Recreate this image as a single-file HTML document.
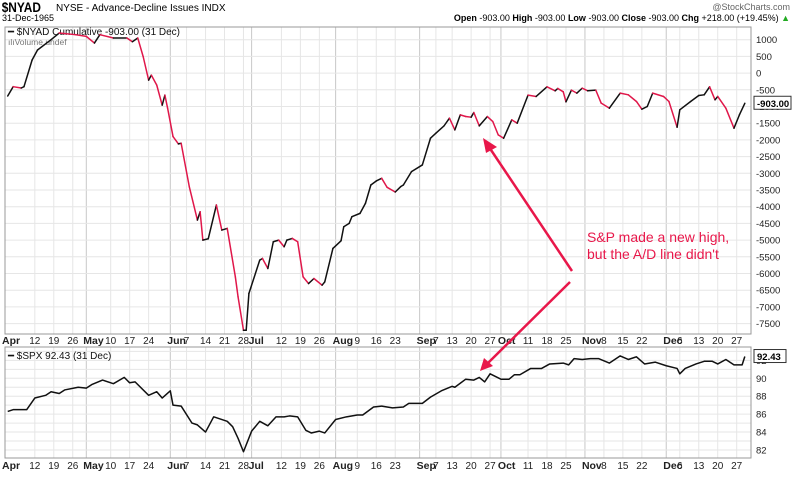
<!DOCTYPE html>
<html><head><meta charset="utf-8"><style>
body{margin:0;background:#fff;font-family:"Liberation Sans",sans-serif;}
svg text{font-family:"Liberation Sans",sans-serif;}
</style></head><body>
<svg id="c" width="800" height="473" viewBox="0 0 800 473" xmlns="http://www.w3.org/2000/svg">
<defs><clipPath id="cpT"><rect x="5" y="27" width="746" height="307"/></clipPath></defs>
<g>
<text x="2" y="12" font-size="14" font-weight="bold" transform="scale(0.85,1)">$NYAD</text>
<text x="56" y="11" font-size="10">NYSE - Advance-Decline Issues INDX</text>
<text x="790" y="10" font-size="9" fill="#666" text-anchor="end">@StockCharts.com</text>
<text x="2" y="21" font-size="9">31-Dec-1965</text>
<text x="790" y="21" font-size="9" text-anchor="end"><tspan font-weight="bold">Open</tspan> -903.00 <tspan font-weight="bold">High</tspan> -903.00 <tspan font-weight="bold">Low</tspan> -903.00 <tspan font-weight="bold">Close</tspan> -903.00 <tspan font-weight="bold">Chg</tspan> +218.00 (+19.45%) <tspan fill="#2a2">▲</tspan></text>
</g>
<g id="topG"></g>
<g id="botG"></g>
<g id="xl"></g>
<g>
<line x1="572" y1="271" x2="489" y2="147" stroke="#e8174a" stroke-width="2.5"/>
<polygon points="483,138 497,147 486,153" fill="#e8174a"/>
<line x1="570" y1="282" x2="488" y2="363" stroke="#e8174a" stroke-width="2.5"/>
<polygon points="480,371 484,358 493,366" fill="#e8174a"/>
<text x="587" y="242" font-size="14" fill="#e8174a">S&amp;P made a new high,</text>
<text x="587" y="259" font-size="14" fill="#e8174a">but the A/D line didn't</text>
</g>
</svg>
<script>
const nyDays=[92,94,97,98,101,103,108,111,117,121,124,126,131,136,138,140,142,144,145,147,149,150,151,153,155,156,159,162,163,164,166,169,171,173,176,177,179,180,181,185,186,188,190,192,194,195,197,199,201,203,205,208,209,212,215,216,218,219,222,224,226,228,230,232,235,237,238,241,245,248,250,253,255,257,259,261,263,264,266,269,271,273,275,278,280,284,287,291,294,295,297,298,300,302,304,306,309,311,314,318,321,324,326,328,330,334,336,339,340,344,347,349,351,353,354,357,360,362,364];
const nyVals=[-686,-407,-446,-407,393,692,1000,1200,1150,1100,900,1150,1050,1050,940,1050,490,-210,-60,-360,-960,-660,-1050,-1900,-2120,-2100,-3400,-4400,-4150,-5000,-4960,-3950,-4700,-4650,-6100,-6700,-7700,-7700,-6600,-5600,-5550,-5850,-5050,-5000,-5200,-5000,-4950,-5050,-6100,-6300,-6150,-6350,-6250,-5250,-5020,-4600,-4500,-4300,-4200,-3900,-3350,-3230,-3150,-3420,-3560,-3400,-3350,-2950,-2750,-1950,-1800,-1580,-1350,-1700,-1250,-1300,-1320,-1180,-1580,-1300,-1450,-1850,-1950,-1400,-1500,-660,-700,-410,-530,-460,-560,-860,-510,-600,-450,-530,-510,-900,-1050,-600,-650,-850,-1080,-1000,-600,-700,-850,-1620,-1100,-850,-670,-650,-410,-800,-700,-1050,-1650,-1250,-903];
const spDays=[92,94,99,102,106,108,111,113,118,121,123,127,131,135,137,139,144,147,149,152,153,156,160,162,165,168,173,175,177,179,182,185,188,191,194,196,199,202,204,207,209,213,217,221,223,227,230,234,238,240,245,248,252,256,257,261,264,266,268,270,274,277,279,281,285,289,292,297,299,301,304,307,310,314,318,321,324,327,331,335,339,340,342,346,349,352,354,357,360,363,364];
const spVals=[86.3,86.5,86.5,87.8,88.1,88.5,88.3,88.7,89,88.9,89.3,89.8,89.4,90.1,89.5,89.6,88.1,88.5,87.8,88.6,87,86.9,85,84.8,84,85.7,85.2,84.6,83.3,81.8,84.1,85.2,84.7,85.7,85.7,85.8,85.7,84.2,83.9,84.1,83.9,85.4,85.7,85.9,85.9,86.8,86.9,86.7,86.8,87.2,87.2,87.9,88.6,89.1,89,89.9,89.8,90.1,89.6,90.5,89.9,89.9,90.4,90.4,91.1,91.1,91.6,91.7,91.5,92.2,92.1,92.2,92.2,91.7,92.5,92.1,92.4,91.6,91.8,91.4,91.1,90.5,91.1,91.6,91.9,91.9,91.6,92.1,91.5,91.5,92.43];
const tickDays=[91,102,109,116,121,130,137,144,152,158,165,172,179,182,193,200,207,213,221,228,235,244,250,256,263,270,274,284,291,298,305,312,319,326,335,340,347,354,361];
const tickLabels=["Apr","12","19","26","May","10","17","24","Jun","7","14","21","28","Jul","12","19","26","Aug","9","16","23","Sep","7","13","20","27","Oct","11","18","25","Nov","8","15","22","Dec","6","13","20","27"];
const nyTicks=[1000,500,0,-500,-1000,-1500,-2000,-2500,-3000,-3500,-4000,-4500,-5000,-5500,-6000,-6500,-7000,-7500];
const spTicks=[82,84,86,88,90,92];
const NS="http://www.w3.org/2000/svg";
const L=5,R=751,T0=27;
const xS=d=>5+(d-91)*2.71;
const yT=v=>73.1-v*0.0334;
const yB=v=>378.3-(v-90)*8.96;
function mk(tag,attrs,parent){const e=document.createElementNS(NS,tag);for(const k in attrs)e.setAttribute(k,attrs[k]);parent.appendChild(e);return e;}
const topG=document.getElementById('topG'),botG=document.getElementById('botG'),xl=document.getElementById('xl');
function panel(g,y0,y1){
  tickDays.forEach((d,i)=>{const month=isNaN(+tickLabels[i]);
    const ln=mk('line',{x1:xS(d),x2:xS(d),y1:y0,y2:y1,stroke:month?'#c8c8c8':'#e6e6e6','stroke-width':1},g);
    
    });
}
panel(topG,T0,334);
nyTicks.forEach(v=>{const gl=mk('line',{x1:L,x2:R,y1:yT(v),y2:yT(v),stroke:'#e6e6e6'},topG);
 
 
 const t=mk('text',{x:756,y:yT(v)+3.5,'font-size':9.5,fill:'#222'},topG);t.textContent=v;
 
 });
let t1=mk('text',{x:8,y:35,'font-size':10,fill:'#111'},topG);t1.textContent='━ $NYAD Cumulative -903.00 (31 Dec)';


let t2=mk('text',{x:8,y:45,'font-size':8.5,fill:'#777'},topG);t2.textContent='ılıVolume undef';


for(let i=1;i<nyDays.length;i++){
  const s=mk('line',{x1:xS(nyDays[i-1]),y1:yT(nyVals[i-1]),x2:xS(nyDays[i]),y2:yT(nyVals[i]),stroke:nyVals[i]<nyVals[i-1]?'#e0174a':'#111','stroke-width':1.5,'stroke-linecap':'round','clip-path':'url(#cpT)'},topG);
  
  
}
mk('rect',{x:L,y:T0,width:R-L,height:334-T0,fill:'none',stroke:'#999'},topG);
let vb=mk('g',{},topG);


mk('rect',{x:754,y:yT(-903)-7,width:37,height:13,fill:'#fff',stroke:'#333'},vb);
let tv=mk('text',{x:757,y:yT(-903)+3.5,'font-size':9.5,'font-weight':'bold'},vb);tv.textContent='-903.00';
panel(botG,347,458);
spTicks.forEach(v=>{[v,v+1].forEach(w=>{if(w>93)return;const gl=mk('line',{x1:L,x2:R,y1:yB(w),y2:yB(w),stroke:'#e6e6e6'},botG);
 
 });
 const t=mk('text',{x:756,y:yB(v)+3.5,'font-size':9.5,fill:'#222'},botG);t.textContent=v;
 
 });
const pts=spDays.map((d,i)=>xS(d)+','+yB(spVals[i])).join(' ');
const pl=mk('polyline',{points:pts,fill:'none',stroke:'#111','stroke-width':1.5,'stroke-linejoin':'round'},botG);


mk('rect',{x:L,y:347,width:R-L,height:111,fill:'none',stroke:'#999'},botG);
let t3=mk('text',{x:8,y:359,'font-size':10,fill:'#111'},botG);t3.textContent='━ $SPX 92.43 (31 Dec)';


let vb2=mk('g',{},botG);


mk('rect',{x:754,y:yB(92.43)-7,width:32,height:13,fill:'#fff',stroke:'#333'},vb2);
let tv2=mk('text',{x:757,y:yB(92.43)+3.5,'font-size':9.5,'font-weight':'bold'},vb2);tv2.textContent='92.43';
[344,469].forEach(yy=>{tickDays.forEach((d,i)=>{const month=isNaN(+tickLabels[i]);
 const t=mk('text',{x:month?xS(d)-3:xS(d),y:yy,'font-size':month?10.5:10,'font-weight':month?'bold':'normal','text-anchor':month?'start':'middle',fill:'#222'},xl);
 t.textContent=tickLabels[i];
 
 });});
</script>
</body></html>
